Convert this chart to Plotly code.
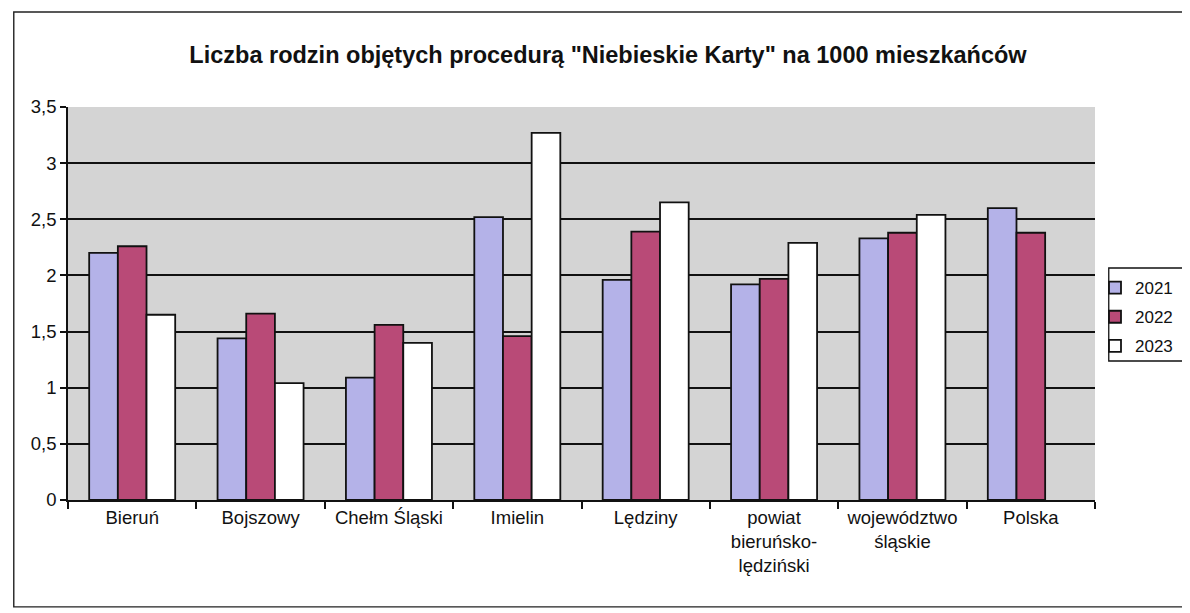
import plotly.graph_objects as go

categories = ["Bieruń", "Bojszowy", "Chełm Śląski", "Imielin", "Lędziny",
              "powiat<br>bieruńsko-<br>lędziński", "województwo<br>śląskie", "Polska"]
v2021 = [2.20, 1.44, 1.09, 2.52, 1.96, 1.92, 2.33, 2.60]
v2022 = [2.26, 1.66, 1.56, 1.46, 2.39, 1.97, 2.38, 2.38]
v2023 = [1.65, 1.04, 1.40, 3.27, 2.65, 2.29, 2.54, None]
series = [("2021", v2021, "#b4b2e8"), ("2022", v2022, "#b94a77"), ("2023", v2023, "#ffffff")]
yticks = [0, 0.5, 1, 1.5, 2, 2.5, 3, 3.5]
ytext = ["0", "0,5", "1", "1,5", "2", "2,5", "3", "3,5"]

fig = go.Figure()
for name, vals, col in series:
    fig.add_trace(go.Bar(x=categories, y=vals, name=name, marker_color=col,
                         legendgroup=name,
                         marker_line_color="#111111", marker_line_width=1.8))

fig.update_layout(
    width=1182, height=605,
    paper_bgcolor="white", plot_bgcolor="#d4d4d4",
    margin=dict(l=60, r=80, t=99, b=113),
    barmode="group", bargap=0.33, bargroupgap=0,
    font=dict(family="Arial, Liberation Sans, sans-serif", size=18, color="#111111"),
    title=dict(text="<b>Liczba rodzin objętych procedurą \"Niebieskie Karty\" na 1000 mieszkańców</b>",
               x=0.5076, xanchor="center", y=0.922, yanchor="middle",
               font=dict(size=23.5, color="#111111")),
    legend=dict(x=1.0, xanchor="left", y=0.585, yanchor="top",
                bgcolor="rgba(0,0,0,0)", borderwidth=0,
                font=dict(size=17), traceorder="grouped", tracegroupgap=4,
                itemwidth=30),
    showlegend=True,
)
fig.update_xaxes(showline=True, linecolor="#111111", linewidth=1.6,
                 ticks="outside", tickson="boundaries", ticklen=7, tickcolor="#111111",
                 tickwidth=1.5, showgrid=False, tickfont=dict(size=18.5))
fig.update_yaxes(range=[0, 3.5], tickvals=yticks, ticktext=ytext,
                 showline=True, linecolor="#111111", linewidth=1.6,
                 ticks="outside", ticklen=6, tickcolor="#111111", tickwidth=1.5,
                 showgrid=True, gridcolor="#111111", gridwidth=1.6,
                 zeroline=False, tickfont=dict(size=18.5))
# outer chart frame
fig.add_shape(type="rect", xref="paper", yref="paper", x0=-0.0528, x1=1.09, y0=-0.272, y1=1.2417,
              line=dict(color="#222222", width=1.4), fillcolor="rgba(0,0,0,0)", layer="below")
# legend box frame
fig.add_shape(type="rect", xref="paper", yref="paper", x0=1.0134, x1=1.09, y0=0.3537, y1=0.5903,
              line=dict(color="#111111", width=1.3), fillcolor="white", layer="below")
fig.write_html("out.html")
